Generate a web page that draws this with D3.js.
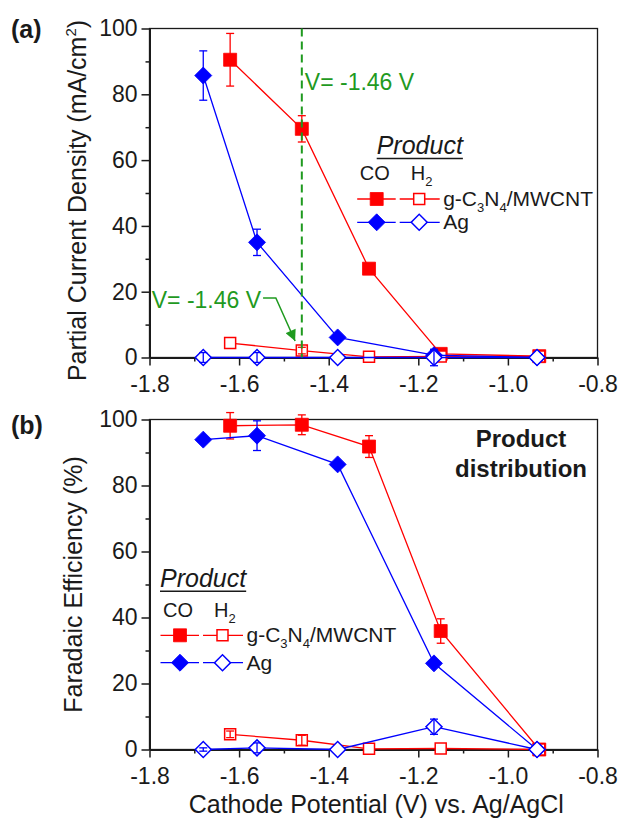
<!DOCTYPE html>
<html>
<head>
<meta charset="utf-8">
<script src="https://cdn.jsdelivr.net/npm/d3@7"></script>
<style>
body { margin: 0; background: #fff; }
svg { display: block; font-family: "Liberation Sans", Arial, sans-serif; }
</style>
</head>
<body>
<script>
"use strict";

///////////////////
// data
///////////////////

// cathode potential, V vs. Ag/AgCl
var potentialCNT = [-1.62, -1.46, -1.31, -1.15, -0.93];
var potentialAg = [-1.68, -1.56, -1.38, -1.165, -0.935];

// (a) partial current density, mA/cm2
var jCoCNT = [90.5, 69.5, 27.0, 1.1, 0.4];
var jCoCNTErr = [8, 4, 0, 0, 0];
var jH2CNT = [4.4, 2.1, 0.2, 0.3, 0.3];
var jH2CNTErr = [0, 1, 0, 0, 0];
var jCoAg = [85.7, 35.0, 6.1, 0.7, 0];
var jCoAgErr = [7.5, 4, 0, 1.5, 0];
var jH2Ag = [0, 0, 0, 0, 0];
var jH2AgErr = [1.5, 1.5, 0, 2.5, 0];

// (b) faradaic efficiency, %
var feCoCNT = [98.1, 98.4, 91.8, 35.9, 0];
var feCoCNTErr = [4, 3, 3.3, 3.7, 0];
var feH2CNT = [4.6, 2.8, 0.2, 0.3, 0];
var feH2CNTErr = [1, 1.5, 0, 0, 0];
var feCoAg = [93.9, 95.1, 86.4, 26.1, 0];
var feCoAgErr = [0, 4.5, 0, 0, 0];
var feH2Ag = [0, 0.5, 0, 6.9, 0];
var feH2AgErr = [0.5, 1.5, 0, 2.3, 0];

// ticks
var xMajor = [-1.8, -1.6, -1.4, -1.2, -1.0, -0.8];
var xMinor = [-1.7, -1.5, -1.3, -1.1, -0.9];
var yMajor = [0, 20, 40, 60, 80, 100];
var yMinor = [10, 30, 50, 70, 90];

var catalysts = ["g-C3N4/MWCNT", "Ag"];
var products = ["CO", "H2"];
var markedPotential = -1.46;

///////////////////
// functions
///////////////////

var RED = "#ff0000", BLUE = "#0000ff", GREEN = "#1f9a1f", INK = "#1a1a1a";

function symbolPath(shape, filled) {
    // diamonds are squares turned 45deg
    var side = shape === "square" ? (filled ? 13 : 11) : (filled ? 12 : 11.3);
    return d3.symbol().type(d3.symbolSquare).size(side * side)();
}

function appendMarker(g, cx, cy, shape, filled, color) {
    g.append("path")
        .attr("d", symbolPath(shape, filled))
        .attr("transform", "translate(" + cx + "," + cy + ")" + (shape === "diamond" ? " rotate(45)" : ""))
        .attr("fill", filled ? color : "#fff")
        .attr("stroke", color)
        .attr("stroke-width", filled ? 0.8 : 1.5);
}

// text with digits written as subscripts (C3N4, H2)
function subText(sel, str, subSize) {
    var lowered = false;
    str.split(/(\d)/).forEach(function(part) {
        if (part === "") return;
        if (/\d/.test(part)) {
            sel.append("tspan").attr("font-size", subSize).attr("dy", 6).text(part);
            lowered = true;
        } else {
            sel.append("tspan").attr("dy", lowered ? -6 : 0).text(part);
            lowered = false;
        }
    });
}

(function() {

    var W = 620, H = 818;
    var svg = d3.select("body").append("svg")
        .attr("width", W).attr("height", H);

    var x = d3.scaleLinear().domain([-1.8, -0.8]).range([149.5, 597.5]);
    var yA = d3.scaleLinear().domain([0, 100]).range([357.5, 28.5]);
    var yB = d3.scaleLinear().domain([0, 100]).range([749.5, 419.5]);

    function drawFrame(y) {
        var g = svg.append("g");
        g.append("rect")
            .attr("x", x.range()[0]).attr("y", y.range()[1])
            .attr("width", x.range()[1] - x.range()[0])
            .attr("height", y.range()[0] - y.range()[1])
            .attr("fill", "none").attr("stroke", INK).attr("stroke-width", 1.3);

        var bottom = g.append("g").attr("transform", "translate(0," + y.range()[0] + ")");
        bottom.append("g")
            .call(d3.axisBottom(x).tickValues(xMinor).tickSize(4).tickSizeOuter(0).tickFormat(""));
        bottom.append("g")
            .call(d3.axisBottom(x).tickValues(xMajor).tickSize(8).tickSizeOuter(0).tickPadding(10)
                .tickFormat(function(d) { return d.toFixed(1); }));

        var left = g.append("g").attr("transform", "translate(" + x.range()[0] + ",0)");
        left.append("g")
            .call(d3.axisLeft(y).tickValues(yMinor).tickSize(4).tickSizeOuter(0).tickFormat(""));
        left.append("g")
            .call(d3.axisLeft(y).tickValues(yMajor).tickSize(8).tickSizeOuter(0).tickPadding(4));

        g.selectAll(".tick line").attr("stroke-width", 1.5);
        g.selectAll(".domain").attr("stroke-width", 2);
        g.selectAll(".tick text").attr("font-size", 23).attr("fill", INK);
        g.selectAll("g").attr("font-family", null).attr("color", INK);
    }

    function drawSeries(y, s) {
        var g = svg.append("g");
        var pts = d3.zip(s.x, s.y, s.err);
        g.append("path")
            .datum(pts)
            .attr("d", d3.line().x(function(d) { return x(d[0]); }).y(function(d) { return y(d[1]); }))
            .attr("fill", "none")
            .attr("stroke", s.color)
            .attr("stroke-width", 1.3);
        pts.forEach(function(d) {
            appendMarker(g, x(d[0]), y(d[1]), s.shape, s.filled, s.color);
        });
        // error bars on top
        var eb = g.selectAll("g.err")
            .data(pts.filter(function(d) { return d[2] > 0; }))
            .enter().append("g")
            .attr("class", "err")
            .attr("stroke", s.color)
            .attr("stroke-width", 1.3);
        eb.append("line")
            .attr("x1", function(d) { return x(d[0]); })
            .attr("x2", function(d) { return x(d[0]); })
            .attr("y1", function(d) { return y(d[1] - d[2]); })
            .attr("y2", function(d) { return y(d[1] + d[2]); });
        [-1, 1].forEach(function(sign) {
            eb.append("line")
                .attr("x1", function(d) { return x(d[0]) - 4; })
                .attr("x2", function(d) { return x(d[0]) + 4; })
                .attr("y1", function(d) { return y(d[1] + sign * d[2]); })
                .attr("y2", function(d) { return y(d[1] + sign * d[2]); });
        });
    }

    function drawLegend(L) {
        var g = svg.append("g").attr("fill", INK);
        var t = g.append("text")
            .attr("x", L.titleX).attr("y", L.titleY)
            .attr("font-size", 25).attr("font-style", "italic")
            .text("Product");
        var w = t.node().getComputedTextLength();
        g.append("line")
            .attr("x1", L.titleX).attr("x2", L.titleX + w)
            .attr("y1", L.titleY + 4.5).attr("y2", L.titleY + 4.5)
            .attr("stroke", INK).attr("stroke-width", 1.5);
        g.append("text").attr("x", L.mark - 17).attr("y", L.headY).attr("font-size", 20).text(products[0]);
        subText(g.append("text").attr("x", L.mark + 34).attr("y", L.headY).attr("font-size", 20), products[1], 13);

        var rows = [{ color: RED, shape: "square" }, { color: BLUE, shape: "diamond" }];
        rows.forEach(function(r, i) {
            var cy = L.rowY[i];
            g.append("line").attr("x1", L.mark - 19.5).attr("x2", L.mark + 19)
                .attr("y1", cy).attr("y2", cy).attr("stroke", r.color).attr("stroke-width", 1.3);
            g.append("line").attr("x1", L.mark + 23).attr("x2", L.mark + 63)
                .attr("y1", cy).attr("y2", cy).attr("stroke", r.color).attr("stroke-width", 1.3);
            appendMarker(g, L.mark, cy, r.shape, true, r.color);
            appendMarker(g, L.mark + 42.5, cy, r.shape, false, r.color);
            subText(g.append("text").attr("x", L.mark + 66.5).attr("y", cy + 7).attr("font-size", 21),
                catalysts[i], 13);
        });
    }

    ///////////////////
    // (a) partial current density
    ///////////////////

    drawFrame(yA);
    var seriesA = [
        { x: potentialCNT, y: jCoCNT, err: jCoCNTErr, color: RED, shape: "square", filled: true },
        { x: potentialCNT, y: jH2CNT, err: jH2CNTErr, color: RED, shape: "square", filled: false },
        { x: potentialAg, y: jCoAg, err: jCoAgErr, color: BLUE, shape: "diamond", filled: true },
        { x: potentialAg, y: jH2Ag, err: jH2AgErr, color: BLUE, shape: "diamond", filled: false }
    ];
    seriesA.forEach(function(s) { drawSeries(yA, s); });

    // marked potential
    svg.append("line")
        .attr("x1", x(markedPotential)).attr("x2", x(markedPotential))
        .attr("y1", yA(100)).attr("y2", yA(0))
        .attr("stroke", GREEN).attr("stroke-width", 2).attr("stroke-dasharray", "8,5");
    svg.append("text")
        .attr("x", x(markedPotential) + 3).attr("y", yA(81.2))
        .attr("font-size", 23).attr("fill", GREEN)
        .text("V= " + markedPotential.toFixed(2) + " V");
    var low = svg.append("text")
        .attr("x", x(-1.795)).attr("y", yA(15.1))
        .attr("font-size", 23).attr("fill", GREEN)
        .text("V= " + markedPotential.toFixed(2) + " V");
    var lowEnd = x(-1.795) + low.node().getComputedTextLength() + 2;

    svg.append("defs").append("marker")
        .attr("id", "arrow")
        .attr("viewBox", "0 0 10 10")
        .attr("refX", 10).attr("refY", 5)
        .attr("markerUnits", "userSpaceOnUse")
        .attr("markerWidth", 12).attr("markerHeight", 11)
        .attr("orient", "auto")
        .append("path").attr("d", "M0,0L10,5L0,10Z").attr("fill", GREEN);
    svg.append("path")
        .attr("d", "M" + lowEnd + "," + yA(18.1) + "H" + x(-1.518) + "L" + x(-1.475) + "," + yA(5))
        .attr("fill", "none").attr("stroke", GREEN).attr("stroke-width", 1.5)
        .attr("marker-end", "url(#arrow)");

    drawLegend({ titleX: 376.7, titleY: 154, headY: 180, mark: 376.7, rowY: [199, 222.3] });

    ///////////////////
    // (b) faradaic efficiency
    ///////////////////

    drawFrame(yB);
    var seriesB = [
        { x: potentialCNT, y: feCoCNT, err: feCoCNTErr, color: RED, shape: "square", filled: true },
        { x: potentialCNT, y: feH2CNT, err: feH2CNTErr, color: RED, shape: "square", filled: false },
        { x: potentialAg, y: feCoAg, err: feCoAgErr, color: BLUE, shape: "diamond", filled: true },
        { x: potentialAg, y: feH2Ag, err: feH2AgErr, color: BLUE, shape: "diamond", filled: false }
    ];
    seriesB.forEach(function(s) { drawSeries(yB, s); });

    drawLegend({ titleX: 160, titleY: 586.7, headY: 616.7, mark: 180, rowY: [635.3, 662.7] });

    var pd = svg.append("text")
        .attr("text-anchor", "middle").attr("font-size", 24).attr("font-weight", "bold").attr("fill", INK);
    pd.append("tspan").attr("x", 521).attr("y", 447).text("Product");
    pd.append("tspan").attr("x", 521).attr("y", 477).text("distribution");

    ///////////////////
    // titles
    ///////////////////

    svg.append("text").attr("x", 11).attr("y", 38)
        .attr("font-size", 25).attr("font-weight", "bold").attr("fill", INK).text("(a)");
    svg.append("text").attr("x", 11).attr("y", 434)
        .attr("font-size", 25).attr("font-weight", "bold").attr("fill", INK).text("(b)");

    var ta = svg.append("text")
        .attr("transform", "translate(86,200.5) rotate(-90)")
        .attr("text-anchor", "middle").attr("font-size", 25).attr("fill", INK);
    ta.append("tspan").text("Partial Current Density (mA/cm");
    ta.append("tspan").attr("font-size", 15).attr("dy", -10).text("2");
    ta.append("tspan").attr("dy", 10).text(")");

    svg.append("text")
        .attr("transform", "translate(82,584.5) rotate(-90)")
        .attr("text-anchor", "middle").attr("font-size", 25).attr("fill", INK)
        .text("Faradaic Efficiency (%)");

    svg.append("text")
        .attr("x", 376.3).attr("y", 813)
        .attr("text-anchor", "middle").attr("font-size", 25).attr("fill", INK)
        .text("Cathode Potential (V) vs. Ag/AgCl");

})();
</script>
</body>
</html>
